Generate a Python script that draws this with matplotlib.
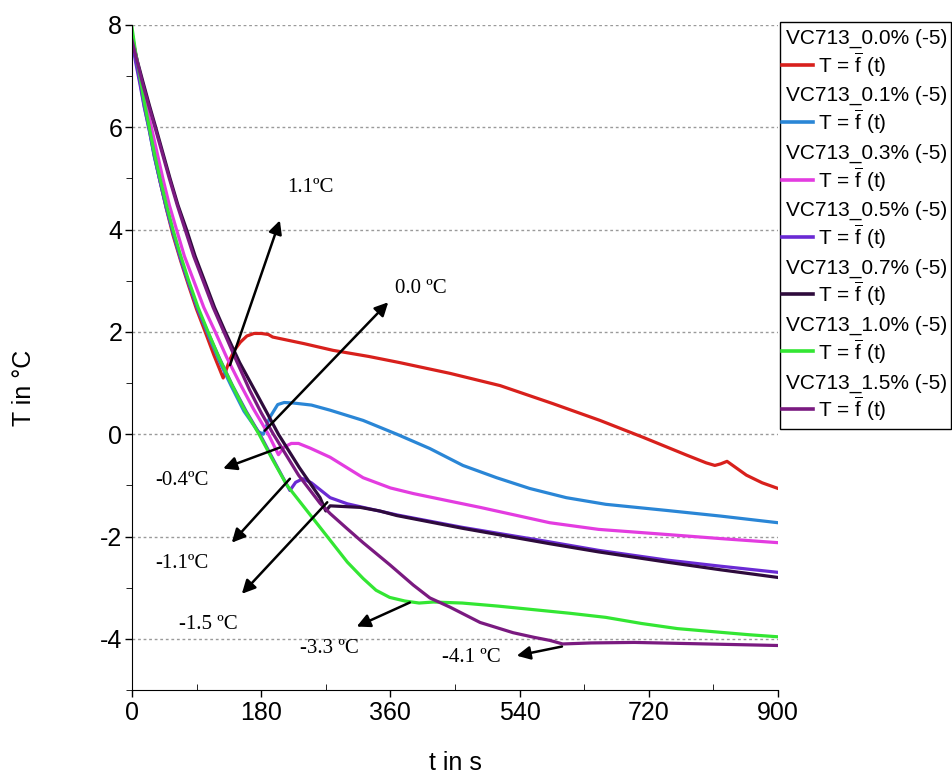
import matplotlib
matplotlib.use('Agg')
import matplotlib.pyplot as plt
from matplotlib import font_manager
from matplotlib.lines import Line2D
from matplotlib.patches import Rectangle
from matplotlib.ticker import MultipleLocator

# curvas de resfriamento T = f(t) para cada teor de aditivo
amostras = ['0.0%', '0.1%', '0.3%', '0.5%', '0.7%', '1.0%', '1.5%']

t_00 = [0, 5, 11, 17, 24, 31, 39, 48, 57, 68, 79, 90, 102, 114, 127, 131, 136, 143, 151, 160,
        170, 180, 190, 196, 240, 280, 330, 373, 443, 513, 586, 652, 712, 773, 800, 812, 820,
        829, 842, 856, 878, 900]
T_00 = [7.85, 7.42, 6.95, 6.47, 6.0, 5.47, 4.95, 4.4, 3.9, 3.38, 2.9, 2.44, 2.0, 1.55, 1.1, 1.25,
        1.45, 1.65, 1.8, 1.92, 1.97, 1.97, 1.95, 1.9, 1.77, 1.64, 1.52, 1.4, 1.19, 0.95, 0.6, 0.27,
        -0.06, -0.41, -0.56, -0.61, -0.58, -0.53, -0.66, -0.8, -0.95, -1.06]

t_01 = [0, 5, 11, 17, 24, 31, 39, 48, 57, 68, 79, 92, 106, 121, 138, 156, 176, 183, 192, 203,
        212, 225, 250, 276, 322, 369, 415, 461, 508, 554, 605, 660, 745, 820, 900]
T_01 = [7.8, 7.35, 6.9, 6.42, 5.95, 5.43, 4.95, 4.42, 3.95, 3.42, 2.95, 2.43, 1.95, 1.45, 0.95,
        0.45, 0.05, 0.0, 0.33, 0.58, 0.62, 0.61, 0.57, 0.47, 0.27, 0.0, -0.28, -0.61, -0.85,
        -1.06, -1.24, -1.37, -1.49, -1.6, -1.73]

t_03 = [0, 6, 12, 19, 27, 35, 43, 52, 62, 73, 86, 100, 116, 132, 150, 169, 190, 204, 212, 222,
        232, 248, 276, 322, 360, 392, 440, 485, 540, 582, 650, 745, 820, 900]
T_03 = [7.8, 7.37, 6.95, 6.47, 6.0, 5.5, 5.0, 4.48, 4.0, 3.48, 3.0, 2.48, 2.0, 1.5, 1.0, 0.5,
        0.0, -0.4, -0.25, -0.18, -0.18, -0.27, -0.45, -0.85, -1.05, -1.16, -1.3, -1.43, -1.6,
        -1.73, -1.86, -1.96, -2.04, -2.12]

t_05 = [0, 5, 11, 17, 24, 31, 39, 48, 57, 68, 79, 92, 107, 123, 140, 159, 180, 200, 220, 228,
        238, 250, 276, 300, 322, 370, 460, 580, 650, 745, 820, 900]
T_05 = [7.7, 7.28, 6.85, 6.4, 5.95, 5.45, 4.95, 4.42, 3.95, 3.42, 2.95, 2.43, 1.95, 1.45, 0.95,
        0.45, -0.05, -0.58, -1.1, -0.94, -0.87, -0.95, -1.24, -1.36, -1.43, -1.58, -1.82, -2.1,
        -2.27, -2.46, -2.58, -2.7]

t_07 = [0, 7, 15, 24, 33, 43, 53, 64, 76, 88, 101, 115, 130, 150, 171, 188, 204, 233, 262, 270,
        276, 318, 345, 369, 461, 582, 650, 745, 820, 900]
T_07 = [7.75, 7.32, 6.9, 6.44, 6.0, 5.5, 5.0, 4.48, 4.0, 3.48, 3.0, 2.48, 2.0, 1.4, 0.86, 0.42,
        0.0, -0.65, -1.24, -1.5, -1.4, -1.43, -1.5, -1.59, -1.84, -2.14, -2.3, -2.5, -2.65, -2.8]

t_10 = [0, 5, 11, 17, 24, 31, 39, 48, 57, 68, 79, 92, 106, 121, 138, 156, 177, 196, 216, 244,
        272, 300, 322, 340, 359, 380, 400, 420, 460, 510, 560, 610, 660, 710, 760, 810, 860, 900]
T_10 = [7.95, 7.47, 7.0, 6.5, 6.0, 5.5, 5.0, 4.48, 4.0, 3.48, 3.0, 2.48, 2.0, 1.5, 1.0, 0.5, 0.0,
        -0.5, -1.0, -1.5, -2.0, -2.5, -2.82, -3.05, -3.19, -3.26, -3.3, -3.28, -3.3, -3.36,
        -3.43, -3.5, -3.58, -3.7, -3.8, -3.86, -3.92, -3.96]

t_15 = [0, 7, 14, 23, 32, 42, 52, 63, 74, 86, 99, 113, 128, 146, 164, 180, 197, 232, 262, 276,
        300, 322, 359, 392, 415, 443, 485, 531, 560, 582, 600, 640, 700, 800, 900]
T_15 = [7.7, 7.3, 6.9, 6.44, 6.0, 5.5, 5.0, 4.48, 4.0, 3.48, 3.0, 2.48, 2.0, 1.42, 0.86, 0.42,
        0.0, -0.8, -1.35, -1.55, -1.85, -2.12, -2.55, -2.95, -3.2, -3.38, -3.68, -3.88, -3.97,
        -4.03, -4.1, -4.08, -4.07, -4.1, -4.13]

series_t = [t_00, t_01, t_03, t_05, t_07, t_10, t_15]
series_T = [T_00, T_01, T_03, T_05, T_07, T_10, T_15]
cores = ['#d8201c', '#2a86d6', '#e33ce0', '#6a2ad4', '#2e0b3c', '#33e633', '#7a1a80']

# pontos de super-resfriamento: texto, posicao do texto, cauda e ponta da seta
notas = [
    ('1.1ºC', (216, 4.83), (136.5, 1.35), (206, 4.18)),
    ('0.0 ºC', (366, 2.85), (185, 0.07), (357, 2.58)),
    ('-0.4ºC', (32, -0.9), (206, -0.26), (127, -0.67)),
    ('-1.1ºC', (32, -2.53), (220, -0.87), (139, -2.12)),
    ('-1.5 ºC', (65, -3.72), (272, -1.33), (153, -3.12)),
    ('-3.3 ºC', (234, -4.19), (387, -3.29), (313, -3.76)),
    ('-4.1 ºC', (432, -4.37), (599, -4.15), (536, -4.33)),
]

nomes = set(f.name for f in font_manager.fontManager.ttflist)
if 'Liberation Sans Narrow' in nomes:
    sans, fs_tick, fs_leg, fs_lab = 'Liberation Sans Narrow', 20, 18, 20
else:
    sans, fs_tick, fs_leg, fs_lab = 'Liberation Sans', 18, 15, 18

plt.rcParams['font.family'] = sans
plt.rcParams['mathtext.fontset'] = 'custom'
plt.rcParams['mathtext.rm'] = sans
plt.rcParams['axes.unicode_minus'] = False

W, H = 952, 776
fig = plt.figure(figsize=(W / 100, H / 100), dpi=100)
ax = fig.add_axes([132 / W, 1 - 690 / H, (778 - 132) / W, (690 - 25) / H])

for t, T, cor in zip(series_t, series_T, cores):
    ax.plot(t, T, color=cor, lw=2.3, solid_joinstyle='round')

for texto, pos, cauda, ponta in notas:
    ax.annotate('', xy=ponta, xytext=cauda,
                arrowprops=dict(arrowstyle='-|>', color='black', lw=1.8, mutation_scale=20,
                                shrinkA=0, shrinkB=0))
    ax.text(pos[0], pos[1], texto, family='Liberation Serif', fontsize=15,
            ha='left', va='center')

ax.set_xlim(0, 900)
ax.set_ylim(-5, 8)
ax.xaxis.set_major_locator(MultipleLocator(180))
ax.xaxis.set_minor_locator(MultipleLocator(90))
ax.yaxis.set_major_locator(MultipleLocator(2))
ax.yaxis.set_minor_locator(MultipleLocator(1))
ax.tick_params(axis='both', which='major', labelsize=fs_tick, length=5, width=1, direction='out')
ax.tick_params(axis='x', which='major', pad=3)
ax.tick_params(axis='y', which='major', pad=2)
ax.tick_params(axis='x', which='minor', length=4, direction='in')
ax.tick_params(axis='y', which='minor', length=4, direction='out')
ax.spines['top'].set_visible(False)
ax.spines['right'].set_visible(False)
ax.grid(axis='y', which='major', color='#9a9a9a', linestyle=(0, (2, 2)), lw=1)

fig.text(24 / W, 1 - 388 / H, 'T in °C', rotation=90, fontsize=fs_lab, ha='center', va='center')
fig.text(455 / W, 1 - 763 / H, 't in s', fontsize=fs_lab, ha='center', va='center')

# legenda desenhada a mao, no estilo do software de aquisicao
fig.add_artist(Rectangle((780 / W, 1 - 429 / H), (951 - 780) / W, (429 - 22) / H,
                         transform=fig.transFigure, fill=True, fc='white', ec='black', lw=1))
for i, (nome, cor) in enumerate(zip(amostras, cores)):
    y_tit = 1 - (38 + 57.5 * i) / H
    y_lin = 1 - (65 + 57.3 * i) / H
    fig.text(786 / W, y_tit, f'VC713_{nome} (-5)', fontsize=fs_leg, ha='left', va='center')
    fig.add_artist(Line2D([782 / W, 813 / W], [y_lin, y_lin], transform=fig.transFigure,
                          color=cor, lw=2.6))
    fig.text(818 / W, y_lin, r'T = $\overline{\mathrm{f}}$ (t)', fontsize=fs_leg,
             ha='left', va='center')

fig.savefig('out.png', dpi=100)
